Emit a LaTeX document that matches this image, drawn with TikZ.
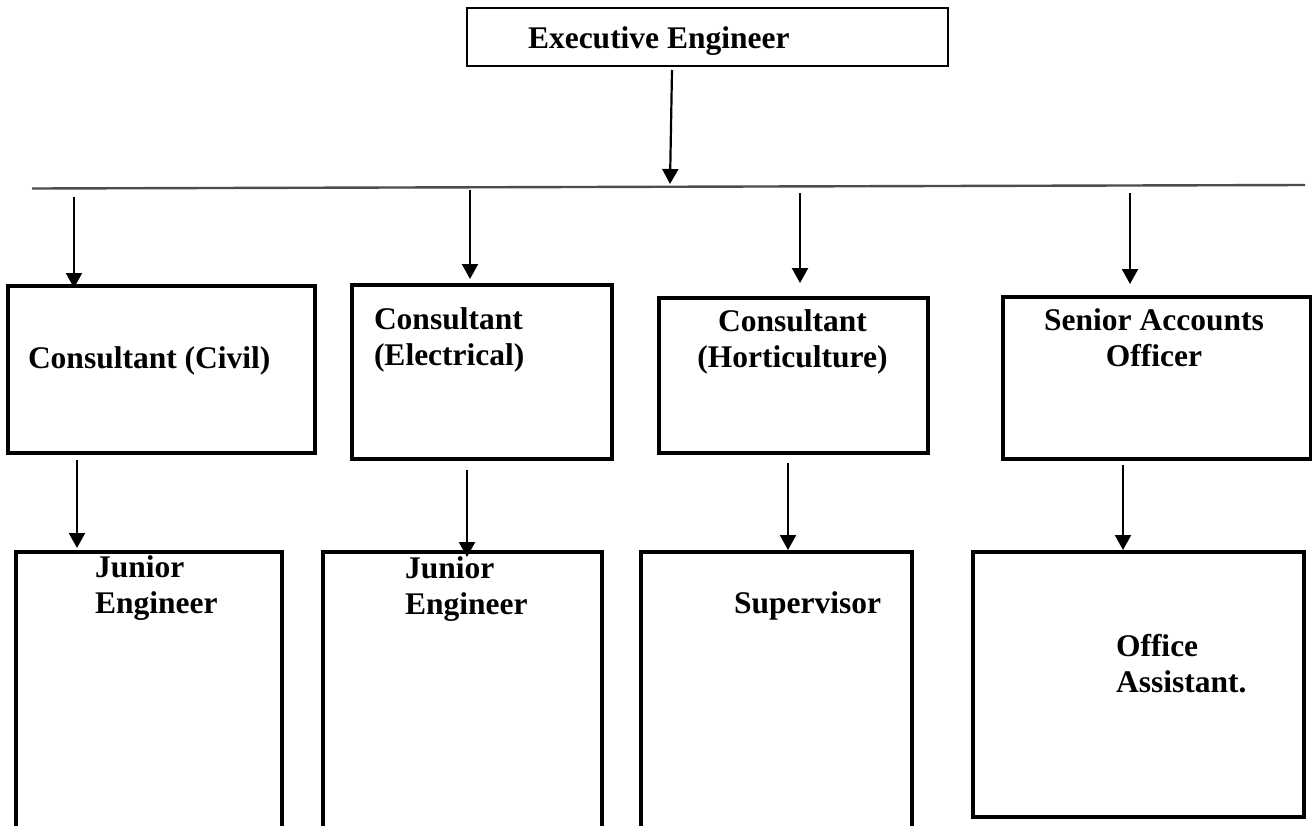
\documentclass[tikz,border=0pt]{standalone}
\usepackage{fontspec}
\setmainfont{Liberation Serif}
\usetikzlibrary{arrows.meta,calc}

\tikzset{
  headbox/.style={draw, line width=1.8pt, inner sep=0pt, outer sep=0pt},
  rolebox/.style={draw, line width=3.3pt, inner sep=0pt, outer sep=0pt},
  % multi-line labels are placed by the baseline of their last line
  rolelabel/.style={inner sep=0pt, outer sep=0pt, align=left, anchor=base west,
    font=\bfseries\fontsize{31.5}{36}\selectfont},
  rolelabelc/.style={rolelabel, align=center, anchor=base},
  busline/.style={draw=black!70, line width=2.4pt},
  arr/.style={line width=2.2pt, -{Triangle[width=16pt,length=15pt]}},
}

\begin{document}
\begin{tikzpicture}[x=1pt,y=-1pt]
  \useasboundingbox (0,0) rectangle (1312,825);
  \clip (0,0) rectangle (1312,825);

  % head of the office
  \node[headbox, minimum width=481pt, minimum height=58pt] (exec) at (707.5,37) {};
  \node[rolelabel] (execT) at (528,48) {Executive Engineer};

  % distribution line
  \coordinate (hl) at (32,188.5);
  \coordinate (hr) at (1305,185);
  \draw[busline] (hl) -- (hr);
  \coordinate (ht) at (670,184);
  \draw[arr] ($(exec.south)+(-35.5,4)$) -- (ht);

  % second level
  \node[rolebox, minimum width=307pt, minimum height=167pt] (civ) at (161.5,369.5) {};
  \node[rolebox, minimum width=260pt, minimum height=174pt] (ele) at (482,372) {};
  \node[rolebox, minimum width=269pt, minimum height=155pt] (hor) at (793.5,375.5) {};
  \node[rolebox, minimum width=308pt, minimum height=162pt] (sao) at (1157,378) {};

  \node[rolelabel] (civT) at (28,368) {Consultant (Civil)};
  \node[rolelabel] (eleT) at (374,365) {Consultant\\(Electrical)};
  \node[rolelabelc] (horT) at (792.5,367) {Consultant\\(Horticulture)};
  \node[rolelabelc] (saoT) at (1154,366) {Senior Accounts\\Officer};

  \coordinate (s1) at (74,197);
  \coordinate (s2) at (470,190);
  \coordinate (s3) at (800,193);
  \coordinate (s4) at (1130,193);
  \draw[arr] (s1) -- ($(civ.north)+(-87.5,2)$);
  \draw[arr] (s2) -- ($(ele.north)+(-12,-6)$);
  \draw[arr] (s3) -- ($(hor.north)+(6.5,-15)$);
  \draw[arr] (s4) -- ($(sao.north)+(-27,-13)$);

  % third level (the first three run past the lower edge)
  \node[rolebox, minimum width=266pt, minimum height=288pt] (je1) at (149,696) {};
  \node[rolebox, minimum width=279pt, minimum height=288pt] (je2) at (462.5,696) {};
  \node[rolebox, minimum width=271pt, minimum height=288pt] (sup) at (776.5,696) {};
  \node[rolebox, minimum width=331pt, minimum height=265pt] (oa) at (1138.5,684.5) {};

  \node[rolelabel] (je1T) at (95,613) {Junior\\Engineer};
  \node[rolelabel] (je2T) at (405,614) {Junior\\Engineer};
  \node[rolelabel] (supT) at (734,613) {Supervisor};
  \node[rolelabel] (oaT) at (1116,692) {Office\\Assistant.};

  \draw[arr] ($(civ.south)+(-84.5,7)$) -- ($(je1.north)+(-72,-4)$);
  \draw[arr] ($(ele.south)+(-15,11)$) -- ($(je2.north)+(4.5,5)$);
  \draw[arr] ($(hor.south)+(-5.5,10)$) -- ($(sup.north)+(11.5,-2)$);
  \draw[arr] ($(sao.south)+(-34,6)$) -- ($(oa.north)+(-15.5,-2)$);
\end{tikzpicture}
\end{document}
